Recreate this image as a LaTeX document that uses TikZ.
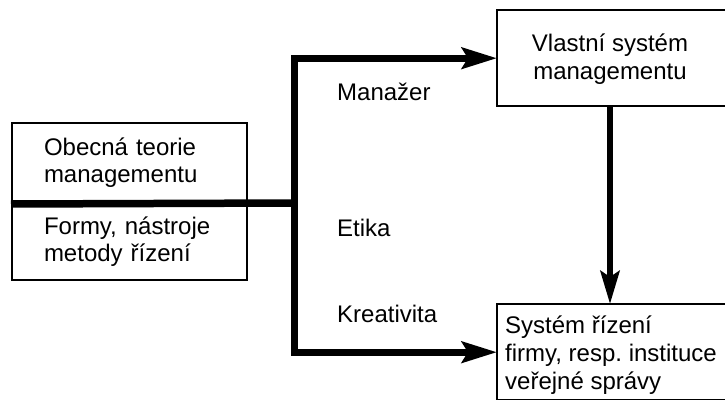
\documentclass[tikz,border=0pt]{standalone}
\usepackage{fontspec}
\setmainfont{Liberation Sans}
\usetikzlibrary{arrows.meta}
\begin{document}
\begin{tikzpicture}[x=1pt,y=-1pt,
  txt/.style={font=\fontsize{24}{27}\selectfont, inner sep=0pt},
  frame/.style={draw, line width=2pt, inner sep=0pt},
  openbox/.style={inner sep=0pt, minimum width=260pt, minimum height=96pt, anchor=north west},
  leftbox/.style={txt, frame, inner xsep=32pt, text width=171pt, align=left},
  lbl/.style={txt, anchor=base west},
  bigline/.style={line width=7.5pt},
  bigarrow/.style={line width=7pt, -{Stealth[length=35pt,width=21pt,inset=6pt]}},
  midarrow/.style={line width=6pt, -{Stealth[length=33pt,width=19pt,inset=6pt]}}]
\useasboundingbox (0,0) rectangle (725,399);
\node[leftbox, minimum height=80pt] (obecna) at (129.5,163) {Obecná teorie\\managementu};
\node[leftbox, minimum height=77pt] (formy) at (129.5,241.5) {Formy, nástroje\\metody řízení};
\node[openbox] (vlastni) at (497,10) {};
\draw[frame] (vlastni.north east) -- (vlastni.north west) -- (vlastni.south west) -- (vlastni.south east);
\node[txt, align=center, font=\fontsize{24}{28}\selectfont] (vlastnitext) at (610,59) {Vlastní systém\\managementu};
\node[openbox] (system) at (497,304) {};
\draw[frame] (system.north east) -- (system.north west) -- (system.south west) -- (system.south east);
\node[txt, align=left, anchor=west, font=\fontsize{24}{28}\selectfont] (systemtext) at (505,355) {Systém řízení\\firmy, resp.\ instituce\\veřejné správy};
\coordinate (junction) at (294,203);
\node[lbl] (manazer) at (337,100) {Manažer};
\node[lbl] (etika) at (337,236) {Etika};
\node[lbl] (kreativita) at (337,322) {Kreativita};
\draw[bigline] (obecna.south west) -- (junction);
\draw[bigarrow] (junction) |- (vlastni.west);
\draw[bigarrow] (junction) |- (system.west);
\draw[midarrow] (vlastnitext.center |- vlastni.south) -- (vlastnitext.center |- system.north);
\end{tikzpicture}
\end{document}
